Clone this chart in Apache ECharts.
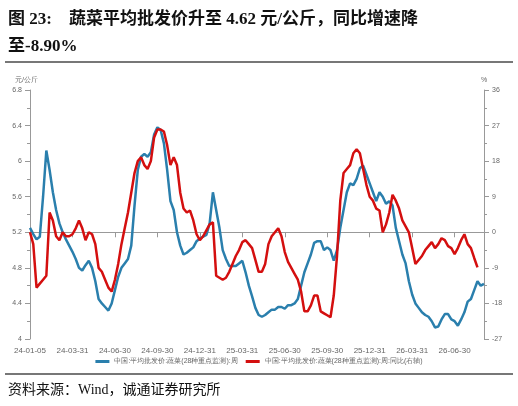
<!DOCTYPE html><html><head><meta charset="utf-8">
<script src="https://cdn.jsdelivr.net/npm/echarts@6/dist/echarts.min.js"></script>
<style>body{margin:0}#c{width:518px;height:406px}</style></head><body><div id="c"></div>
<script>
const tickLabels=['24-01-05','24-03-31','24-06-30','24-09-30','24-12-31','25-03-31','25-06-30','25-09-30','25-12-31','26-03-31','26-06-30'];
const price=[5.25,5.18,5.12,5.15,5.6,6.12,5.9,5.65,5.45,5.3,5.2,5.12,5.05,4.98,4.9,4.8,4.77,4.83,4.88,4.8,4.65,4.45,4.4,4.36,4.32,4.4,4.55,4.7,4.8,4.85,4.9,5.05,5.5,5.9,6.05,6.08,6.05,6.1,6.3,6.38,6.35,6.2,5.9,5.55,5.45,5.2,5.05,4.95,4.97,5.0,5.03,5.1,5.13,5.15,5.17,5.3,5.65,5.45,5.25,5.0,4.9,4.82,4.82,4.82,4.85,4.88,4.75,4.6,4.48,4.35,4.27,4.25,4.27,4.3,4.33,4.33,4.36,4.36,4.34,4.38,4.38,4.4,4.45,4.6,4.75,4.85,4.95,5.08,5.1,5.1,5.0,5.03,5.0,4.88,5.0,5.25,5.45,5.65,5.75,5.73,5.8,5.92,5.95,5.85,5.75,5.65,5.55,5.65,5.6,5.52,5.55,5.5,5.25,5.1,4.95,4.85,4.65,4.5,4.4,4.35,4.3,4.27,4.25,4.2,4.13,4.14,4.22,4.28,4.28,4.22,4.2,4.15,4.22,4.3,4.42,4.45,4.55,4.65,4.6,4.62];
const yoy=[0,-3,-14,-13,-12,-11,5,3,-1,-2,0,-1,-1,-0.5,1,3,1,-2,0,-0.5,-3,-9,-10,-12,-14,-15,-12,-8,-3,1,5,10,15,18,19,17,16,18,24,26,26,25.5,22,17,19,17,10,6,5,5.5,3,-0.5,-2,-1,0.5,2,2.5,-11,-11.5,-12,-11.5,-10,-8,-6,-4.5,-2.5,-2,-3,-4,-7,-10,-10,-8,-3,-1,0,1,-1,-5,-7.5,-9,-10.5,-12,-15,-20,-20,-18.5,-16,-16,-20,-20.5,-21,-21.5,-16,-6,8,15,16,17,20,21,20,16,12,9,8,6,5.5,0,2,5,9.5,8,6,3,1.5,0,-4,-8,-7,-6,-4.5,-3.5,-2.5,-4,-3,-1.5,-2,-3.5,-4,-5.5,-4,-2,-0.5,-3,-4,-6.5,-8.9];
const cats=[];{let d=new Date(Date.UTC(2024,0,5));for(let i=0;i<Math.max(price.length,yoy.length);i++){cats.push(d.toISOString().slice(2,10));d=new Date(d.getTime()+7*864e5);}}
const ax={color:'#999'};
const c=echarts.init(document.getElementById('c'));
c.setOption({animation:false,backgroundColor:'#fff',
graphic:[
{type:'text',left:8,top:6,style:{text:'图 23:    蔬菜平均批发价升至 4.62 元/公斤，同比增速降\n至-8.90%',font:'bold 17px "Liberation Serif","Noto Sans CJK SC"',fill:'#111',lineHeight:27}},
{type:'rect',shape:{x:5,y:61,width:508,height:2},style:{fill:'#777'}},
{type:'rect',shape:{x:5,y:373,width:508,height:2},style:{fill:'#777'}},
{type:'text',left:8,top:383,style:{text:'资料来源：Wind，诚通证券研究所',font:'14px "Liberation Serif","Noto Sans CJK SC"',fill:'#111'}}],
legend:{bottom:36,itemWidth:14,itemHeight:3,itemGap:8,icon:'rect',textStyle:{fontSize:7,color:'#666'}},
grid:{left:30,right:34,top:90,bottom:67},
xAxis:{type:'category',data:cats,boundaryGap:false,axisLine:{lineStyle:ax},axisTick:{lineStyle:ax,interval:(i)=>i%13===0},
axisLabel:{fontSize:8,color:'#666',interval:(i)=>i%13===0,formatter:(v,i)=>tickLabels[i/13]||''}},
yAxis:[{type:'value',min:4,max:6.8,interval:0.4,name:'元/公斤',nameGap:6,nameTextStyle:{fontSize:7,color:'#666',align:'right',padding:[0,-8,0,0]},axisLine:{show:true,lineStyle:ax},axisTick:{show:true,lineStyle:ax},minorTick:{show:true,splitNumber:2,lineStyle:ax},splitLine:{show:false},axisLabel:{fontSize:7,color:'#666',formatter:v=>+v.toFixed(1)}},
{type:'value',min:-27,max:36,interval:9,name:'%',nameGap:6,nameTextStyle:{fontSize:7,color:'#666'},axisLine:{show:true,lineStyle:ax},axisTick:{show:true,lineStyle:ax},minorTick:{show:true,splitNumber:2,lineStyle:ax},splitLine:{show:false},axisLabel:{fontSize:7,color:'#666'}}],
series:[{name:'中国:平均批发价:蔬菜(28种重点监测):周',type:'line',data:price,symbol:'none',lineStyle:{width:2.5,color:'#2a7fad'},itemStyle:{color:'#2a7fad'}},
{name:'中国:平均批发价:蔬菜(28种重点监测):周:同比(右轴)',type:'line',yAxisIndex:1,data:yoy,symbol:'none',lineStyle:{width:2.5,color:'#d40f0f'},itemStyle:{color:'#d40f0f'}}]});
</script></body></html>
